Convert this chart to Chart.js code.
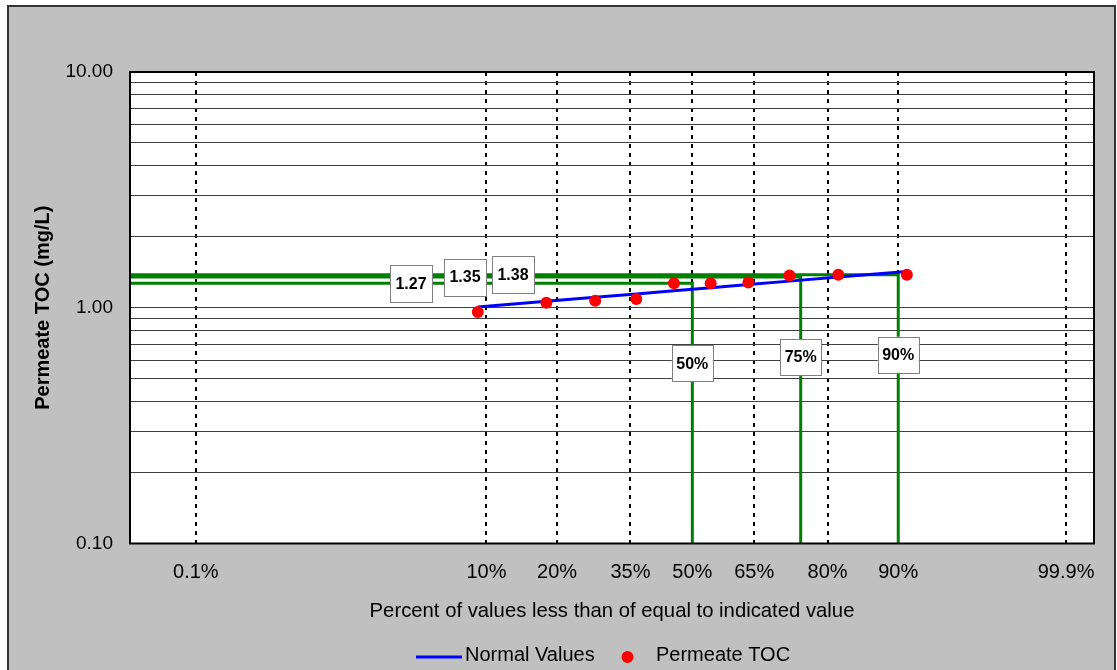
<!DOCTYPE html>
<html>
<head>
<meta charset="utf-8">
<script src="https://cdn.jsdelivr.net/npm/chart.js@4.4.0/dist/chart.umd.min.js"></script>
<style>
  html, body { margin: 0; padding: 0; background: #fff; }
  #wrap { width: 1117px; height: 670px; }
</style>
</head>
<body>
<div id="wrap"><canvas id="c"></canvas></div>
<script>
// Plotting positions (cumulative percent) of the ten ranked permeate TOC results
const plotPercents = [9.09, 18.18, 27.27, 36.36, 45.45, 54.55, 63.64, 72.73, 81.82, 90.91];
// Measured permeate TOC, mg/L, ranked low to high
const tocValues = [0.96, 1.05, 1.07, 1.09, 1.27, 1.27, 1.28, 1.37, 1.38, 1.38];
// Fitted normal line at the same plotting positions, mg/L
const normalValues = [1.007, 1.065, 1.108, 1.145, 1.181, 1.216, 1.254, 1.297, 1.349, 1.426];
// Percentile markers and the TOC value read at each
const markerPercents = [50, 75, 90];
const markerValues = [1.27, 1.35, 1.38];
// Probability-axis gridlines and their labels
const xTickPercents = [0.1, 10, 20, 35, 50, 65, 80, 90, 99];
const xTickLabels = ['0.1%', '10%', '20%', '35%', '50%', '65%', '80%', '90%', '99.9%'];
// Labelled decades on the concentration axis
const yTickLabels = { '0.1': '0.10', '1': '1.00', '10': '10.00' };

const X_MIN = -3.5, X_MAX = 2.5, Y_MIN = 0.1, Y_MAX = 10;
const FONT = "Arial, 'Liberation Sans', sans-serif";

// Inverse standard normal CDF (Acklam) – maps a cumulative probability to the z axis
function probit(p) {
  const a = [-3.969683028665376e+01, 2.209460984245205e+02, -2.759285104469687e+02, 1.383577518672690e+02, -3.066479806614716e+01, 2.506628277459239e+00];
  const b = [-5.447609879822406e+01, 1.615858368580409e+02, -1.556989798598866e+02, 6.680131188771972e+01, -1.328068155288572e+01];
  const c = [-7.784894002430293e-03, -3.223964580411365e-01, -2.400758277161838e+00, -2.549732539343734e+00, 4.374664141464968e+00, 2.938163982698783e+00];
  const d = [7.784695709041462e-03, 3.224671290700398e-01, 2.445134137142996e+00, 3.754408661907416e+00];
  const pl = 0.02425;
  if (p < pl) {
    const q = Math.sqrt(-2 * Math.log(p));
    return (((((c[0]*q+c[1])*q+c[2])*q+c[3])*q+c[4])*q+c[5]) / ((((d[0]*q+d[1])*q+d[2])*q+d[3])*q+1);
  }
  if (p > 1 - pl) {
    const q = Math.sqrt(-2 * Math.log(1 - p));
    return -(((((c[0]*q+c[1])*q+c[2])*q+c[3])*q+c[4])*q+c[5]) / ((((d[0]*q+d[1])*q+d[2])*q+d[3])*q+1);
  }
  const q = p - 0.5, r = q * q;
  return (((((a[0]*r+a[1])*r+a[2])*r+a[3])*r+a[4])*r+a[5])*q / (((((b[0]*r+b[1])*r+b[2])*r+b[3])*r+b[4])*r+1);
}
const z = pct => probit(pct / 100);

// Green L-shaped percentile guides: across from the axis, then down to the floor
const markerSets = markerPercents.map((p, i) => ({
  label: p + '%',
  data: [
    { x: X_MIN, y: markerValues[i] },
    { x: z(p), y: markerValues[i] },
    { x: z(p), y: Y_MIN }
  ],
  showLine: true,
  borderColor: '#008000',
  borderWidth: 3,
  pointRadius: 0,
  order: 3
}));

const normalSet = {
  label: 'Normal Values',
  data: plotPercents.map((p, i) => ({ x: z(p), y: normalValues[i] })),
  showLine: true,
  borderColor: '#0000ff',
  borderWidth: 3,
  pointRadius: 0,
  order: 2
};

const tocSet = {
  label: 'Permeate TOC',
  data: plotPercents.map((p, i) => ({ x: z(p), y: tocValues[i] })),
  showLine: false,
  pointRadius: 6,
  pointBackgroundColor: '#ff0000',
  pointBorderWidth: 0,
  backgroundColor: '#ff0000',
  order: 1
};

// Background panel, plot frame, value/percent callouts and legend
const decor = {
  id: 'decor',
  beforeDraw(chart) {
    const { ctx, chartArea: a } = chart;
    ctx.save();
    ctx.fillStyle = '#ffffff';
    ctx.fillRect(0, 0, chart.width, chart.height);
    ctx.fillStyle = '#c0c0c0';
    ctx.fillRect(8, 6, 1107, 700);
    ctx.strokeStyle = '#333333';
    ctx.lineWidth = 2;
    ctx.strokeRect(8, 6, 1107, 700);
    ctx.fillStyle = '#ffffff';
    ctx.fillRect(a.left, a.top, a.right - a.left, a.bottom - a.top);
    ctx.restore();
  },
  afterDatasetsDraw(chart, args, opts) {
    const { ctx, chartArea: a, scales: { x, y } } = chart;
    ctx.save();
    ctx.strokeStyle = '#000';
    ctx.lineWidth = 2;
    ctx.strokeRect(a.left, a.top, a.right - a.left, a.bottom - a.top);

    const box = (cx, cy, w, h, text) => {
      ctx.fillStyle = '#fff';
      ctx.fillRect(cx - w / 2, cy - h / 2, w, h);
      ctx.strokeStyle = '#808080';
      ctx.lineWidth = 1;
      ctx.strokeRect(Math.round(cx - w / 2) + 0.5, Math.round(cy - h / 2) + 0.5, w, h);
      ctx.fillStyle = '#000';
      ctx.font = 'bold 16px ' + FONT;
      ctx.textAlign = 'center';
      ctx.textBaseline = 'middle';
      ctx.fillText(text, cx, cy + 1);
    };
    markerValues.forEach((v, i) => {
      const py = y.getPixelForValue(v);
      box(opts.valueBoxX[i], py, 42, 37, v.toFixed(2));
      box(x.getPixelForValue(z(markerPercents[i])), py + opts.pctBoxDrop, 41, 36, markerPercents[i] + '%');
    });
    ctx.restore();
  },
  afterDraw(chart) {
    const { ctx } = chart;
    ctx.save();
    ctx.font = '20px ' + FONT;
    ctx.fillStyle = '#000';
    ctx.textAlign = 'left';
    ctx.textBaseline = 'alphabetic';
    ctx.strokeStyle = normalSet.borderColor;
    ctx.lineWidth = 3;
    ctx.beginPath();
    ctx.moveTo(416, 657);
    ctx.lineTo(462, 657);
    ctx.stroke();
    ctx.fillText(normalSet.label, 465, 661);
    ctx.fillStyle = tocSet.pointBackgroundColor;
    ctx.beginPath();
    ctx.arc(627.5, 657, 6, 0, Math.PI * 2);
    ctx.fill();
    ctx.fillStyle = '#000';
    ctx.fillText(tocSet.label, 656, 661);
    ctx.restore();
  }
};

new Chart(document.getElementById('c'), {
  type: 'scatter',
  data: { datasets: [tocSet, normalSet, ...markerSets] },
  plugins: [decor],
  options: {
    responsive: true,
    maintainAspectRatio: false,
    animation: false,
    layout: { padding: { top: 72, right: 23, bottom: 46.5, left: 0 } },
    plugins: {
      legend: { display: false },
      tooltip: { enabled: false },
      decor: { valueBoxX: [411, 465, 513], pctBoxDrop: 80 }
    },
    scales: {
      x: {
        type: 'linear',
        min: X_MIN,
        max: X_MAX,
        afterBuildTicks: s => { s.ticks = xTickPercents.map(p => ({ value: z(p) })); },
        afterFit: s => { s.height = 80; },
        ticks: {
          autoSkip: false,
          maxRotation: 0,
          padding: 17,
          color: '#000',
          font: { family: FONT, size: 20 },
          callback: (v, i) => xTickLabels[i]
        },
        grid: { color: '#000', lineWidth: 2, drawTicks: false },
        border: { display: false, dash: [4, 5] },
        title: {
          display: true,
          text: 'Percent of values less than of equal to indicated value',
          color: '#000',
          font: { family: FONT, size: 20.3 },
          padding: { top: 0, bottom: 0 }
        }
      },
      y: {
        type: 'logarithmic',
        min: Y_MIN,
        max: Y_MAX,
        afterBuildTicks: s => {
          const t = [];
          for (let e = -1; e <= 0; e++) {
            for (let m = 1; m <= 9; m++) t.push({ value: Number((m * Math.pow(10, e)).toFixed(2)) });
          }
          t.push({ value: 10 });
          s.ticks = t;
        },
        afterFit: s => { s.width = 130; },
        ticks: {
          autoSkip: false,
          padding: 17,
          color: '#000',
          font: { family: FONT, size: 19 },
          callback: v => yTickLabels[String(v)] || ''
        },
        grid: { color: '#404040', lineWidth: 1, drawTicks: false },
        border: { display: false },
        title: {
          display: true,
          text: 'Permeate TOC (mg/L)',
          color: '#000',
          font: { family: FONT, size: 20, weight: 'bold' },
          padding: { top: 31, bottom: 0 }
        }
      }
    }
  }
});
</script>
</body>
</html>
